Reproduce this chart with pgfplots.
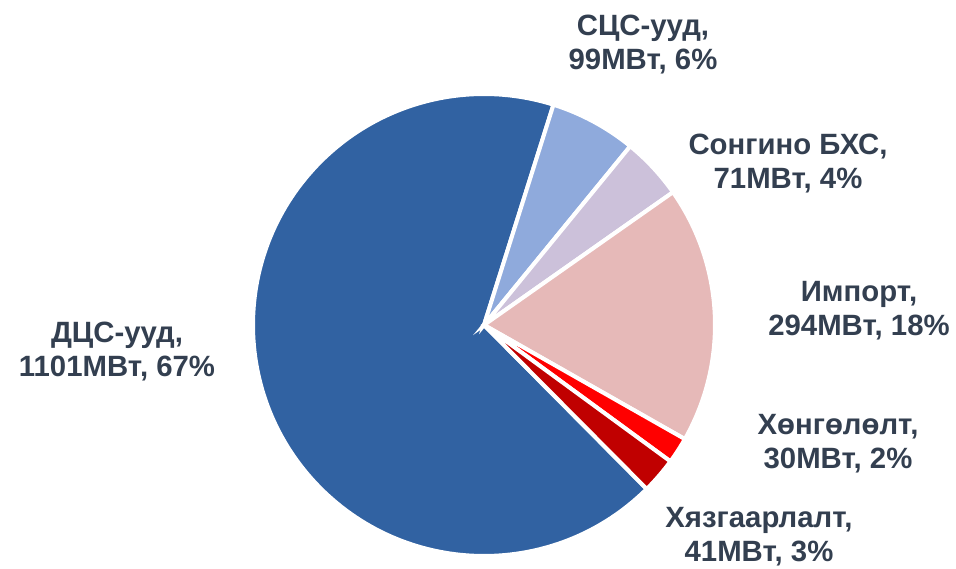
\documentclass[border=0pt]{standalone}
\usepackage{fontspec}
\setmainfont{Liberation Sans}
\usepackage{pgfplots}
\usepackage{pgfplotstable}
\pgfplotsset{compat=1.18}

\definecolor{cDCS}{HTML}{3162A2}
\definecolor{cSCS}{HTML}{8FAADC}
\definecolor{cSon}{HTML}{CCC1DA}
\definecolor{cImp}{HTML}{E6B9B8}
\definecolor{cHon}{HTML}{FF0000}
\definecolor{cHyz}{HTML}{C00000}
\definecolor{lbl}{HTML}{333F50}

\tikzset{lab/.style={font=\bfseries\fontsize{22}{25.5}\selectfont,
    text=lbl, align=center}}

% MW values, drawn clockwise
\pgfplotstableread{
val  col
1101 cDCS
99   cSCS
71   cSon
294  cImp
30   cHon
41   cHyz
}\piedata

\def\R{173.25pt}

\begin{document}
\begin{tikzpicture}
\begin{axis}[
  width=717pt, height=426pt, scale only axis,
  xmin=0, xmax=956, ymin=0, ymax=568,
  hide axis, clip=false,
]
\pgfplotsextra{%
  \def\total{0}%
  \pgfplotsforeachungrouped \i in {0,...,5}{%
    \pgfplotstablegetelem{\i}{val}\of\piedata
    \pgfmathsetmacro\total{\total+\pgfplotsretval}%
  }%
  \def\curang{314.77}%
  \pgfplotsforeachungrouped \i in {0,...,5}{%
    \pgfplotstablegetelem{\i}{val}\of\piedata
    \pgfmathsetmacro\endang{\curang-\pgfplotsretval/\total*360}%
    \pgfplotstablegetelem{\i}{col}\of\piedata
    \edef\c{\pgfplotsretval}%
    \fill[fill=\c, draw=white, line width=3pt]
      (axis cs:484,243) -- ++(\curang:\R)
      arc[start angle=\curang, end angle=\endang, radius=\R] -- cycle;
    \let\curang\endang
  }%
}
\node[lab] at (axis cs:117,216) {ДЦС-ууд,\\1101МВт, 67\%};
\node[lab] at (axis cs:643,523) {СЦС-ууд,\\99МВт, 6\%};
\node[lab] at (axis cs:788,404) {Сонгино БХС,\\71МВт, 4\%};
\node[lab] at (axis cs:859,257) {Импорт,\\294МВт, 18\%};
\node[lab] at (axis cs:838,124.5) {Хөнгөлөлт,\\30МВт, 2\%};
\node[lab] at (axis cs:759,31) {Хязгаарлалт,\\41МВт, 3\%};
\end{axis}
\pgfresetboundingbox
\path (0,0) rectangle (717pt,426pt);
\end{tikzpicture}
\end{document}
